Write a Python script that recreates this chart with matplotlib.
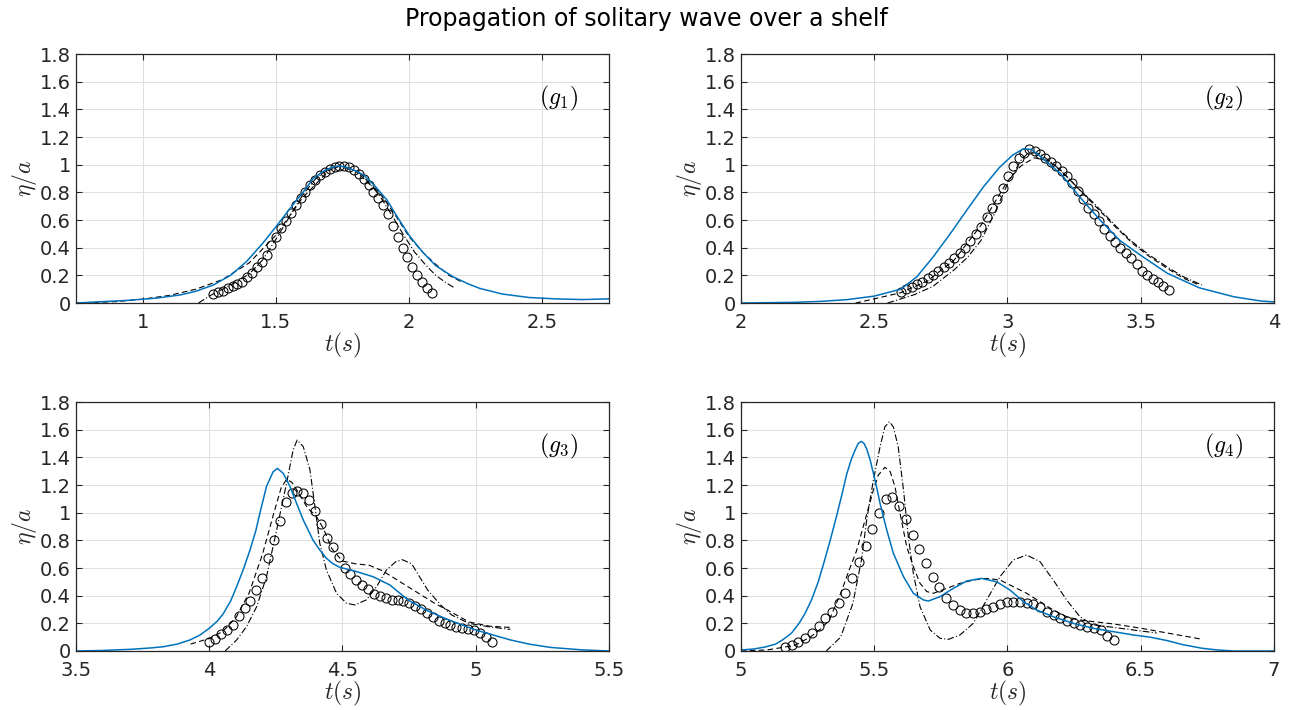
import numpy as np
import matplotlib.pyplot as plt
from matplotlib.ticker import FormatStrFormatter

plt.rcParams['mathtext.fontset'] = 'cm'
plt.rcParams['font.family'] = 'DejaVu Sans'

# ---- gauge g1 ----
g1_blue_t = [0.75, 0.85, 0.95, 1.05, 1.14, 1.2, 1.265, 1.33, 1.39, 1.45, 1.5, 1.54, 1.578, 1.61,
             1.64, 1.68, 1.71, 1.73, 1.76, 1.8, 1.83, 1.87, 1.917, 1.96, 2.0, 2.05, 2.1, 2.165,
             2.22, 2.265, 2.35, 2.45, 2.55, 2.65, 2.75]
g1_blue_v = [0.0, 0.01, 0.02, 0.035, 0.058, 0.085, 0.13, 0.2, 0.30, 0.43, 0.55, 0.65, 0.745, 0.82,
             0.90, 0.955, 0.98, 0.99, 0.985, 0.955, 0.925, 0.85, 0.745, 0.61, 0.49, 0.37, 0.27, 0.19,
             0.14, 0.106, 0.065, 0.04, 0.03, 0.025, 0.03]
g1_dash_t = [0.75, 0.9, 1.0, 1.1, 1.2, 1.3, 1.4, 1.5, 1.6, 1.7, 1.74, 1.8, 1.9, 1.95, 2.0, 2.05,
             2.1, 2.15, 2.2]
g1_dash_v = [0.0, 0.01, 0.028, 0.055, 0.10, 0.17, 0.29, 0.49, 0.76, 0.96, 0.99, 0.955, 0.77, 0.63,
             0.48, 0.37, 0.28, 0.2, 0.15]
g1_dd_t = [1.21, 1.25, 1.30, 1.35, 1.40, 1.45, 1.50, 1.55, 1.60, 1.65, 1.70, 1.74, 1.78, 1.82,
           1.86, 1.90, 1.94, 1.98, 2.02, 2.06, 2.10, 2.14, 2.17]
g1_dd_v = [0.0, 0.05, 0.10, 0.15, 0.21, 0.31, 0.46, 0.62, 0.78, 0.9, 0.97, 0.99, 0.975, 0.93,
           0.85, 0.745, 0.62, 0.49, 0.37, 0.28, 0.2, 0.145, 0.11]
g1_exp_range = (1.265, 2.085)
g1_exp_v = [0.065, 0.077, 0.09, 0.106, 0.12, 0.136, 0.155, 0.185, 0.22, 0.26, 0.30, 0.35, 0.42,
            0.48, 0.54, 0.595, 0.65, 0.71, 0.76, 0.80, 0.85, 0.89, 0.925, 0.95, 0.97, 0.985, 0.99,
            0.99, 0.98, 0.96, 0.935, 0.90, 0.855, 0.80, 0.76, 0.71, 0.64, 0.555, 0.48, 0.40, 0.33,
            0.26, 0.205, 0.15, 0.11, 0.07]

# ---- gauge g2 ----
g2_blue_t = [2.0, 2.2, 2.3, 2.4, 2.5, 2.6, 2.66, 2.72, 2.785, 2.847, 2.91, 2.97, 3.02, 3.06, 3.09,
             3.12, 3.16, 3.2, 3.27, 3.35, 3.42, 3.5, 3.6, 3.72, 3.85, 3.95, 4.0]
g2_blue_v = [0.0, 0.005, 0.012, 0.025, 0.05, 0.10, 0.19, 0.33, 0.50, 0.67, 0.84, 0.98, 1.07, 1.115,
             1.11, 1.065, 1.0, 0.935, 0.77, 0.595, 0.455, 0.345, 0.215, 0.11, 0.045, 0.015, 0.008]
g2_dash_t = [2.43, 2.5, 2.6, 2.7, 2.8, 2.9, 2.95, 3.0, 3.05, 3.1, 3.15, 3.2, 3.25, 3.3, 3.35, 3.4,
             3.47, 3.53, 3.6, 3.66, 3.72]
g2_dash_v = [0.0, 0.03, 0.075, 0.16, 0.31, 0.56, 0.72, 0.88, 0.99, 1.05, 1.03, 0.96, 0.86, 0.76,
             0.66, 0.56, 0.43, 0.34, 0.25, 0.18, 0.13]
g2_dd_t = [2.55, 2.6, 2.65, 2.72, 2.8, 2.85, 2.9, 2.95, 3.0, 3.05, 3.08, 3.12, 3.17, 3.22, 3.27,
           3.32, 3.37, 3.42, 3.47, 3.53, 3.6, 3.66, 3.73]
g2_dd_v = [0.0, 0.03, 0.06, 0.12, 0.24, 0.33, 0.45, 0.64, 0.86, 1.03, 1.09, 1.08, 1.01, 0.92, 0.82,
           0.73, 0.63, 0.53, 0.44, 0.35, 0.26, 0.19, 0.13]
g2_exp_range = (2.60, 3.605)
g2_exp_v = [0.08, 0.10, 0.115, 0.135, 0.155, 0.18, 0.205, 0.23, 0.26, 0.29, 0.325, 0.36, 0.40,
            0.45, 0.50, 0.55, 0.62, 0.685, 0.755, 0.83, 0.915, 0.99, 1.045, 1.085, 1.11, 1.10,
            1.08, 1.05, 1.02, 0.99, 0.955, 0.92, 0.87, 0.81, 0.75, 0.69, 0.64, 0.59, 0.535, 0.485,
            0.44, 0.40, 0.36, 0.325, 0.28, 0.235, 0.205, 0.175, 0.15, 0.12, 0.095]

# ---- gauge g3 ----
g3_blue_t = [3.5, 3.6, 3.703, 3.78, 3.828, 3.88, 3.928, 3.965, 4.0, 4.03, 4.053, 4.08, 4.103, 4.13,
             4.153, 4.175, 4.19, 4.215, 4.24, 4.256, 4.278, 4.303, 4.328, 4.353, 4.39, 4.415,
             4.44, 4.465, 4.49, 4.553, 4.615, 4.678, 4.747, 4.82, 4.9, 5.0, 5.13, 5.2, 5.28, 5.4,
             5.5]
g3_blue_v = [0.0, 0.004, 0.012, 0.022, 0.031, 0.05, 0.08, 0.115, 0.164, 0.215, 0.27, 0.36, 0.465,
             0.60, 0.73, 0.87, 0.995, 1.19, 1.296, 1.32, 1.284, 1.19, 1.067, 0.947, 0.80, 0.73,
             0.67, 0.63, 0.605, 0.574, 0.537, 0.477, 0.368, 0.29, 0.224, 0.152, 0.08, 0.05, 0.026,
             0.008, 0.0]
g3_dash_t = [3.93, 4.0, 4.05, 4.1, 4.15, 4.2, 4.24, 4.27, 4.29, 4.31, 4.34, 4.37, 4.40, 4.43, 4.46,
             4.5, 4.55, 4.6, 4.65, 4.7, 4.75, 4.8, 4.85, 4.9, 4.975, 5.05, 5.13]
g3_dash_v = [0.05, 0.09, 0.14, 0.24, 0.42, 0.70, 0.98, 1.18, 1.24, 1.22, 1.13, 1.03, 0.98, 0.88,
             0.74, 0.65, 0.63, 0.62, 0.58, 0.52, 0.46, 0.40, 0.34, 0.29, 0.21, 0.18, 0.17]
g3_dd_t = [4.06, 4.103, 4.14, 4.178, 4.215, 4.253, 4.29, 4.315, 4.33, 4.353, 4.378, 4.397, 4.415,
           4.44, 4.478, 4.515, 4.547, 4.59, 4.628, 4.665, 4.70, 4.725, 4.76, 4.82, 4.87, 4.91,
           4.975, 5.05, 5.13]
g3_dd_v = [0.0, 0.08, 0.176, 0.32, 0.537, 0.875, 1.21, 1.453, 1.525, 1.477, 1.31, 1.04, 0.778,
           0.585, 0.417, 0.345, 0.333, 0.37, 0.465, 0.585, 0.645, 0.66, 0.63, 0.44, 0.33, 0.26,
           0.2, 0.175, 0.156]
g3_exp_range = (4.0, 5.06)
g3_exp_v = [0.067, 0.09, 0.12, 0.155, 0.19, 0.255, 0.31, 0.36, 0.44, 0.53, 0.67, 0.80, 0.94, 1.08,
            1.14, 1.16, 1.14, 1.09, 1.01, 0.92, 0.82, 0.755, 0.68, 0.60, 0.56, 0.515, 0.48, 0.445,
            0.415, 0.395, 0.38, 0.372, 0.368, 0.36, 0.35, 0.325, 0.30, 0.275, 0.245, 0.22, 0.205,
            0.19, 0.175, 0.165, 0.158, 0.152, 0.13, 0.10, 0.065]

# ---- gauge g4 ----
g4_blue_t = [5.0, 5.05, 5.093, 5.13, 5.156, 5.19, 5.218, 5.24, 5.265, 5.29, 5.31, 5.335, 5.358,
             5.38, 5.397, 5.415, 5.43, 5.44, 5.452, 5.462, 5.472, 5.485, 5.497, 5.51, 5.522, 5.547,
             5.572, 5.61, 5.647, 5.685, 5.703, 5.747, 5.797, 5.847, 5.903, 5.96, 6.01, 6.06, 6.11,
             6.172, 6.247, 6.322, 6.397, 6.472, 6.535, 6.60, 6.66, 6.73, 6.79, 6.85, 7.0]
g4_blue_v = [0.007, 0.015, 0.03, 0.05, 0.08, 0.13, 0.2, 0.27, 0.37, 0.50, 0.63, 0.80, 0.97, 1.14,
             1.28, 1.39, 1.46, 1.50, 1.515, 1.50, 1.46, 1.38, 1.284, 1.175, 1.067, 0.875, 0.706,
             0.537, 0.417, 0.369, 0.361, 0.393, 0.453, 0.506, 0.525, 0.50, 0.44, 0.357, 0.296,
             0.248, 0.20, 0.164, 0.14, 0.116, 0.10, 0.075, 0.045, 0.02, 0.007, 0.0, 0.0]
g4_dash_t = [5.0, 5.1, 5.2, 5.26, 5.3, 5.33, 5.374, 5.405, 5.433, 5.456, 5.472, 5.497, 5.515, 5.54,
             5.56, 5.578, 5.597, 5.622, 5.647, 5.672, 5.697, 5.722, 5.772, 5.822, 5.872, 5.922,
             5.972, 6.022, 6.072, 6.122, 6.172, 6.222, 6.272, 6.4, 6.5, 6.6, 6.73]
g4_dash_v = [0.0, 0.008, 0.04, 0.1, 0.16, 0.22, 0.416, 0.58, 0.72, 0.88, 0.99, 1.164, 1.27, 1.328,
             1.296, 1.188, 0.995, 0.754, 0.61, 0.489, 0.43, 0.417, 0.453, 0.489, 0.513, 0.525,
             0.513, 0.465, 0.417, 0.357, 0.296, 0.248, 0.224, 0.195, 0.165, 0.13, 0.085]
g4_dd_t = [5.32, 5.374, 5.42, 5.452, 5.472, 5.497, 5.522, 5.54, 5.557, 5.572, 5.59, 5.61, 5.628,
           5.647, 5.672, 5.71, 5.747, 5.778, 5.822, 5.872, 5.922, 5.972, 6.022, 6.072, 6.122,
           6.172, 6.222, 6.272, 6.32, 6.40, 6.48, 6.56]
g4_dd_v = [0.0, 0.10, 0.344, 0.657, 0.95, 1.236, 1.477, 1.62, 1.658, 1.62, 1.477, 1.164, 0.826,
           0.56, 0.32, 0.152, 0.092, 0.084, 0.116, 0.20, 0.369, 0.537, 0.658, 0.694, 0.646,
           0.513, 0.369, 0.248, 0.19, 0.17, 0.15, 0.13]
g4_exp_range = (5.165, 6.40)
g4_exp_v = [0.026, 0.045, 0.065, 0.095, 0.13, 0.18, 0.235, 0.285, 0.345, 0.42, 0.525, 0.645, 0.76,
            0.88, 1.0, 1.10, 1.115, 1.05, 0.955, 0.84, 0.74, 0.635, 0.535, 0.46, 0.385, 0.335,
            0.295, 0.272, 0.272, 0.284, 0.30, 0.32, 0.34, 0.352, 0.357, 0.357, 0.35, 0.34, 0.32,
            0.285, 0.26, 0.236, 0.22, 0.202, 0.188, 0.176, 0.165, 0.15, 0.11, 0.08]

labels = [r'$(g_1)$', r'$(g_2)$', r'$(g_3)$', r'$(g_4)$']
xlims = [(0.75, 2.75), (2, 4), (3.5, 5.5), (5, 7)]
xticks = [[1, 1.5, 2, 2.5], [2, 2.5, 3, 3.5, 4], [3.5, 4, 4.5, 5, 5.5], [5, 5.5, 6, 6.5, 7]]
yticks = [0, 0.2, 0.4, 0.6, 0.8, 1, 1.2, 1.4, 1.6, 1.8]

panels = [
    (g1_blue_t, g1_blue_v, g1_dash_t, g1_dash_v, g1_dd_t, g1_dd_v, g1_exp_range, g1_exp_v),
    (g2_blue_t, g2_blue_v, g2_dash_t, g2_dash_v, g2_dd_t, g2_dd_v, g2_exp_range, g2_exp_v),
    (g3_blue_t, g3_blue_v, g3_dash_t, g3_dash_v, g3_dd_t, g3_dd_v, g3_exp_range, g3_exp_v),
    (g4_blue_t, g4_blue_v, g4_dash_t, g4_dash_v, g4_dd_t, g4_dd_v, g4_exp_range, g4_exp_v),
]

fig = plt.figure(figsize=(12.92, 7.10), dpi=100)
positions = [[0.0588, 0.5732, 0.4125, 0.3507], [0.5735, 0.5732, 0.4125, 0.3507],
             [0.0588, 0.0831, 0.4125, 0.3507], [0.5735, 0.0831, 0.4125, 0.3507]]
axcol = '#262626'

for i, (bt, bv, dt, dv, ddt, ddv, erange, ev) in enumerate(panels):
    ax = fig.add_axes(positions[i])
    et = np.linspace(erange[0], erange[1], len(ev))  # evenly sampled gauge record
    ax.plot(et, ev, 'o', mfc='none', mec='k', ms=6.5, mew=0.75)
    ax.plot(dt, dv, color='k', lw=0.8, ls=(0, (5, 3)))
    ax.plot(ddt, ddv, color='k', lw=0.8, ls=(0, (6, 2, 1, 2)))
    ax.plot(bt, bv, color='#0072BD', lw=1.1)

    ax.set_xlim(*xlims[i])
    ax.set_ylim(0, 1.8)
    ax.set_xticks(xticks[i])
    ax.set_yticks(yticks)
    ax.xaxis.set_major_formatter(FormatStrFormatter('%g'))
    ax.yaxis.set_major_formatter(FormatStrFormatter('%g'))
    ax.grid(True, color='#dedede', lw=0.7)
    ax.set_axisbelow(True)
    ax.tick_params(direction='in', top=True, right=True, length=4, width=0.8,
                   labelsize=14, color=axcol, labelcolor=axcol)
    ax.tick_params(axis='x', pad=7.5)
    for sp in ax.spines.values():
        sp.set_color(axcol)
        sp.set_linewidth(0.9)
    ax.set_xlabel(r'$t(s)$', fontsize=17, color=axcol, labelpad=-1)
    ax.set_ylabel(r'$\eta/a$', fontsize=17, color=axcol, labelpad=1)
    ax.text(0.905, 0.82, labels[i], transform=ax.transAxes, ha='center', va='center',
            fontsize=17, color='k')

fig.suptitle('Propagation of solitary wave over a shelf', y=0.99, fontsize=17, color='k')
fig.savefig('out.png', dpi=100)
